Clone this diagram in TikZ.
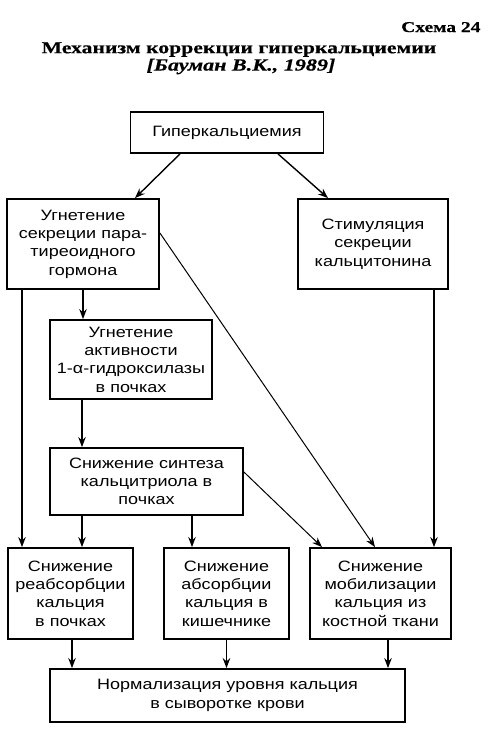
\documentclass[tikz,border=0pt]{standalone}
\usepackage{fontspec}
\setmainfont{Liberation Serif}
\setsansfont{Liberation Sans}[FakeStretch=1.2]
\newfontfamily\headfont{Liberation Serif}[FakeStretch=1.3,FakeBold=0.6]
\usetikzlibrary{arrows.meta}

\begin{document}
\begin{tikzpicture}[x=1pt,y=1pt,>={Stealth[length=10pt,width=7.5pt]},
box/.style={draw,line width=1.8pt,align=center,inner sep=0pt,
  font=\sffamily\fontsize{15}{18.3}\selectfont},
arr/.style={->,line width=1.4pt},
thin arr/.style={->,line width=1pt}]
\useasboundingbox(0,0)rectangle(495,-734);
\node[anchor=base east,font=\headfont\bfseries\fontsize{15}{18}\selectfont](num)at(484,-32){Схема 24};
\node[font=\headfont\bfseries\fontsize{16.7}{20}\selectfont](title)at(239,-49.5){Механизм коррекции гиперкальциемии};
\node[font=\headfont\bfseries\itshape\fontsize{17}{20}\selectfont](ref)at(241,-66.5){[Бауман В.К., 1989]};
\node[box,minimum width=193pt,minimum height=41pt](hyper)at(227,-132.5){Гиперкальциемия};
\node[box,minimum width=152pt,minimum height=90pt](ugn)at(83,-244){Угнетение\\секреции пара-\\тиреоидного\\гормона};
\node[box,minimum width=150pt,minimum height=90pt](stim)at(373,-244){Стимуляция\\секреции\\кальцитонина};
\node[box,minimum width=162pt,minimum height=79pt](akt)at(131,-359.5){Угнетение\\активности\\1-α-гидроксилазы\\в почках};
\node[box,minimum width=193pt,minimum height=67pt](sint)at(146.5,-481.5){Снижение синтеза\\кальцитриола в\\почках};
\node[box,minimum width=125pt,minimum height=91pt](reab)at(70.5,-593.5){Снижение\\реабсорбции\\кальция\\в почках};
\node[box,minimum width=125pt,minimum height=91pt](abs)at(226.5,-593.5){Снижение\\абсорбции\\кальция в\\кишечнике};
\node[box,minimum width=141pt,minimum height=91pt](mob)at(380.5,-593.5){Снижение\\мобилизации\\кальция из\\костной ткани};
\node[box,minimum width=355pt,minimum height=53pt](norm)at(227.5,-695.5){Нормализация уровня кальция\\в сыворотке крови};
\draw[arr]([xshift=-47pt]hyper.south)--([xshift=52pt]ugn.north);
\draw[arr]([xshift=51pt]hyper.south)--([xshift=-45pt]stim.north);
\draw[arr](ugn.south)--(ugn.south|-akt.north);
\draw[arr]([xshift=-49pt]akt.south)--([xshift=-49pt]akt.south|-sint.north);
\draw[arr]([xshift=-61pt]ugn.south)--([xshift=-61pt]ugn.south|-reab.north);
\draw[arr]([xshift=-64.5pt]sint.south)--([xshift=-64.5pt]sint.south|-reab.north);
\draw[arr]([xshift=45.5pt]sint.south)--([xshift=45.5pt]sint.south|-abs.north);
\draw[thin arr]([yshift=9.5pt]sint.east)--([xshift=-58.5pt]mob.north);
\draw[thin arr]([yshift=11pt]ugn.east)--([xshift=-5.5pt]mob.north);
\draw[arr]([xshift=61pt]stim.south)--([xshift=61pt]stim.south|-mob.north);
\draw[arr]([xshift=1.5pt]reab.south)--([xshift=1.5pt]reab.south|-norm.north);
\draw[arr](abs.south)--(abs.south|-norm.north);
\draw[arr]([xshift=7.5pt]mob.south)--([xshift=7.5pt]mob.south|-norm.north);
\end{tikzpicture}
\end{document}
